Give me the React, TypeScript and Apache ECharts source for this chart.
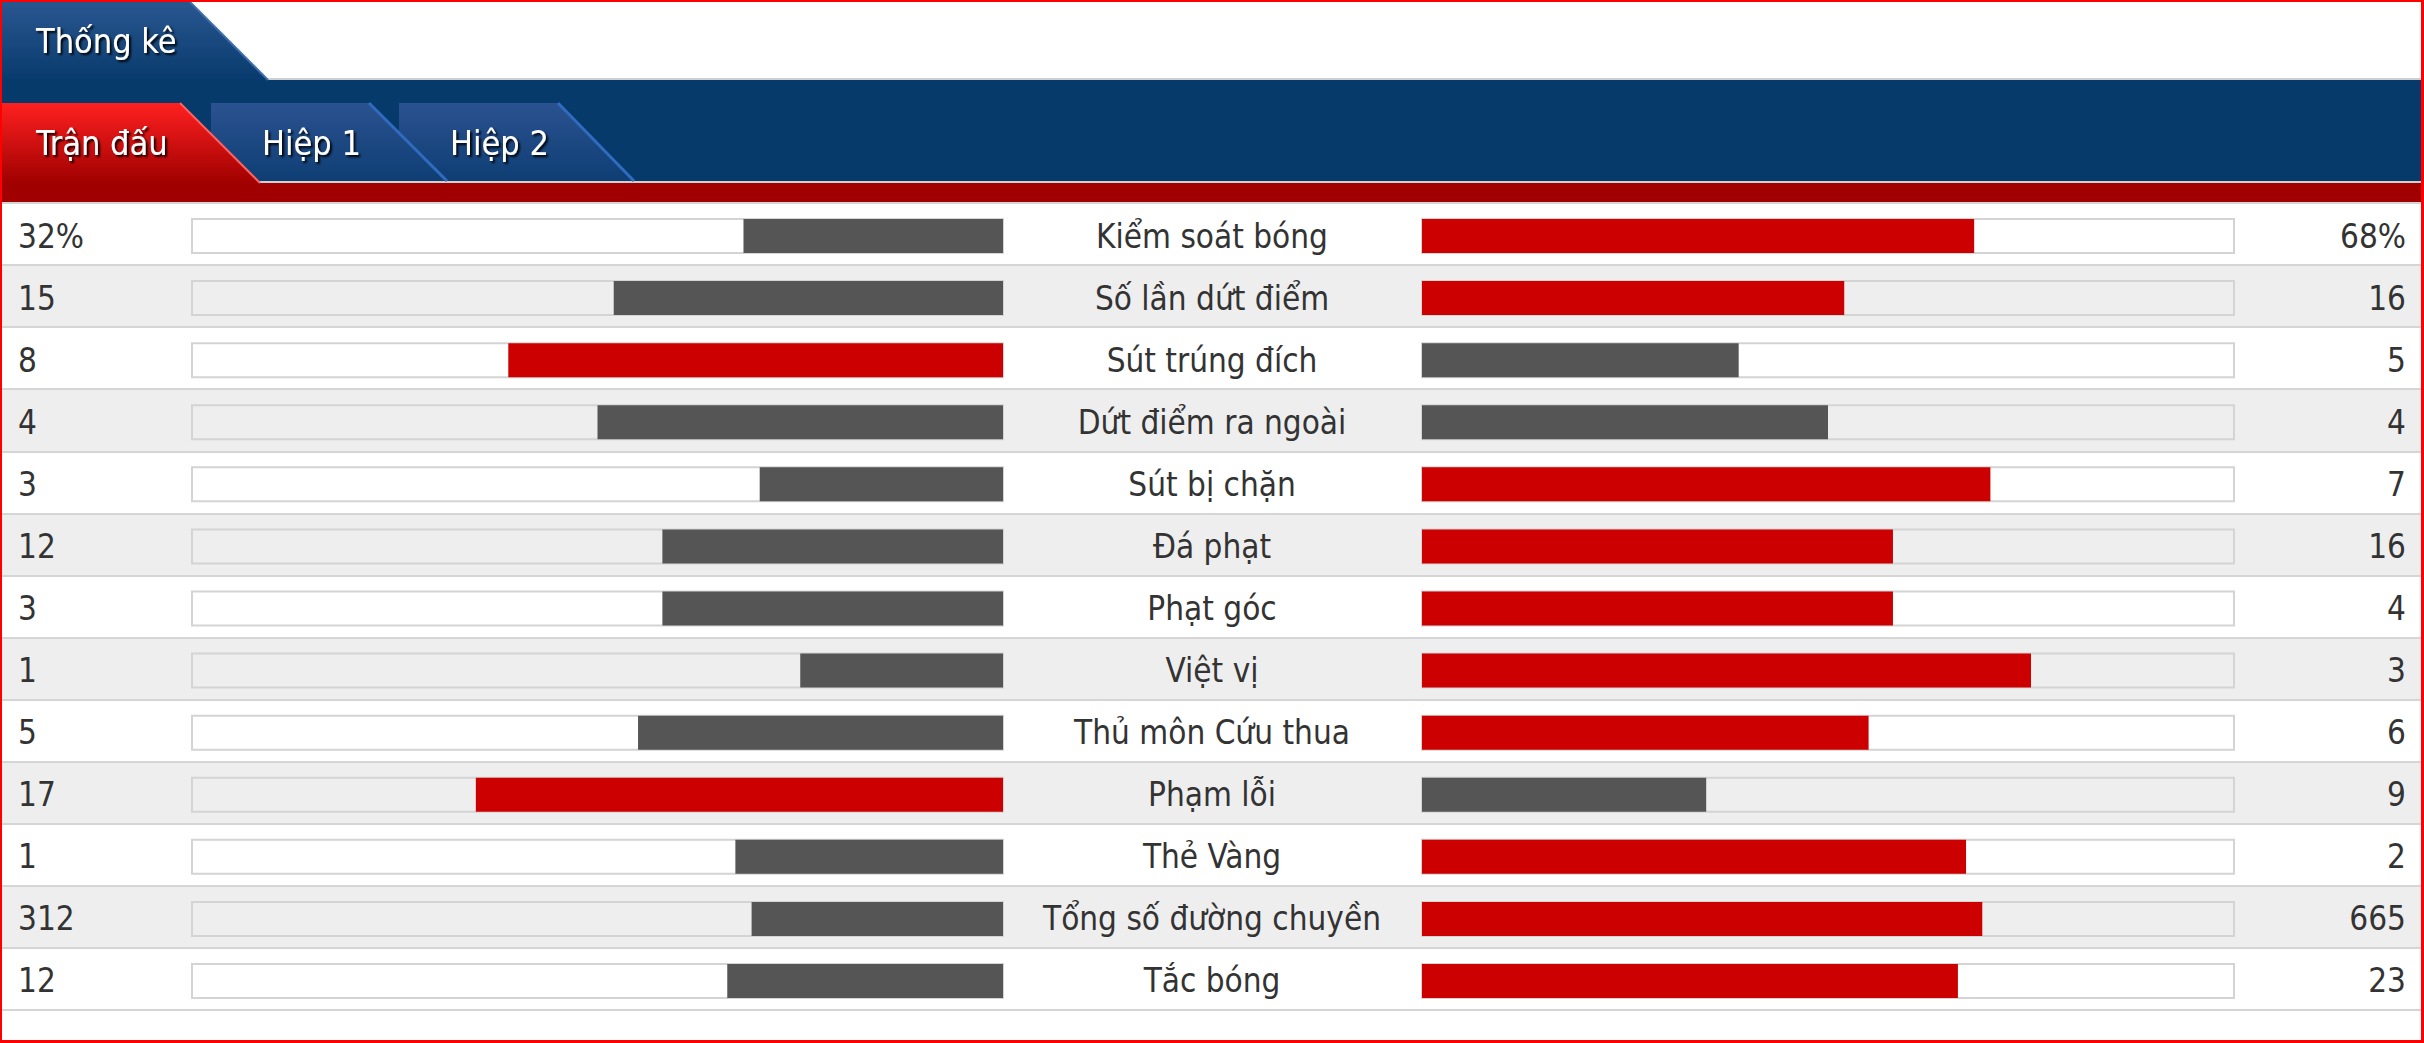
import React, { useEffect, useRef } from "react";
import * as echarts from "echarts";

// ---------- data ----------
const title = "Thống kê";
const tabs = ["Trận đấu", "Hiệp 1", "Hiệp 2"];
const categories = [
  "Kiểm soát bóng",
  "Số lần dứt điểm",
  "Sút trúng đích",
  "Dứt điểm ra ngoài",
  "Sút bị chặn",
  "Đá phạt",
  "Phạt góc",
  "Việt vị",
  "Thủ môn Cứu thua",
  "Phạm lỗi",
  "Thẻ Vàng",
  "Tổng số đường chuyền",
  "Tắc bóng",
];
const homeValues = [32, 15, 8, 4, 3, 12, 3, 1, 5, 17, 1, 312, 12];
const awayValues = [68, 16, 5, 4, 7, 16, 4, 3, 6, 9, 2, 665, 23];
const valueSuffix = ["%", "", "", "", "", "", "", "", "", "", "", "", ""];
// bar lengths (percent of track)
const homeShare = [32, 48, 61, 50, 30, 42, 42, 25, 45, 65, 33, 31, 34];
const awayShare = [68, 52, 39, 50, 70, 58, 58, 75, 55, 35, 67, 69, 66];

// ---------- layout / style ----------
const W = 2424;
const H = 1043;
const FONT = "'DejaVu Sans Condensed', 'DejaVu Sans', sans-serif";
const FS = 33;
const HFS = 34;
const TEXT = "#333333";
const RED = "#cc0000";
const GREY = "#555555";
const LINE = "#d5d5d5";
const ROW_TOP = 203;
const ROW_BOTTOM = 1010;
const BAR_SHIFT = 2;
const L_LEFT = 192;
const L_RIGHT = 1003;
const R_LEFT = 1422;
const R_RIGHT = 2234;
const CENTER_X = 1212;

const grad = (top: string, bottom: string) =>
  new echarts.graphic.LinearGradient(0, 0, 0, 1, [
    { offset: 0, color: top },
    { offset: 1, color: bottom },
  ]);

const headerText = (text: string, x: number, y: number) => ({
  type: "text",
  x,
  y,
  z: 10,
  style: {
    text,
    fill: "#ffffff",
    font: `${HFS}px ${FONT}`,
    verticalAlign: "middle",
    textShadowColor: "rgba(0,0,0,0.95)",
    textShadowBlur: 2,
    textShadowOffsetX: 2,
    textShadowOffsetY: 2,
  },
});

export default function App() {
  const ref = useRef<HTMLDivElement>(null);

  useEffect(() => {
    if (!ref.current) return;
    const chart = echarts.init(ref.current, undefined, { renderer: "svg" });

    const labelBase = { color: TEXT, fontSize: FS, fontFamily: FONT, interval: 0 };
    const hiddenCat = {
      type: "category",
      data: categories,
      inverse: true,
      axisLine: { show: false },
      axisTick: { show: false },
      splitLine: { show: false },
    };
    const barTop = ROW_TOP + BAR_SHIFT;
    const barH = ROW_BOTTOM - ROW_TOP;

    const option: any = {
      animation: false,
      backgroundColor: "#ffffff",
      grid: [
        { left: 2, top: ROW_TOP, width: W - 5, height: ROW_BOTTOM - ROW_TOP },
        { left: L_LEFT, top: barTop, width: L_RIGHT - L_LEFT, height: barH },
        { left: R_LEFT, top: barTop, width: R_RIGHT - R_LEFT, height: barH },
      ],
      xAxis: [
        { gridIndex: 0, type: "value", min: 0, max: 1, show: false },
        { gridIndex: 1, type: "value", min: 0, max: 100, inverse: true, show: false },
        { gridIndex: 2, type: "value", min: 0, max: 100, show: false },
      ],
      yAxis: [
        {
          ...hiddenCat,
          gridIndex: 0,
          axisLabel: { show: false },
          splitLine: { show: true, interval: 0, lineStyle: { color: LINE, width: 2 } },
          splitArea: { show: true, interval: 0, areaStyle: { color: ["#ffffff", "#eeeeee"] } },
        },
        {
          ...hiddenCat,
          gridIndex: 1,
          position: "left",
          axisLabel: {
            ...labelBase,
            align: "left",
            margin: L_LEFT - 18,
            formatter: (_v: string, i: number) => `${homeValues[i]}${valueSuffix[i]}`,
          },
        },
        {
          ...hiddenCat,
          gridIndex: 1,
          position: "right",
          axisLabel: { ...labelBase, align: "center", margin: CENTER_X - L_RIGHT },
        },
        {
          ...hiddenCat,
          gridIndex: 2,
          position: "right",
          axisLabel: {
            ...labelBase,
            align: "right",
            margin: 2406 - R_RIGHT,
            formatter: (_v: string, i: number) => `${awayValues[i]}${valueSuffix[i]}`,
          },
        },
      ],
      series: [
        {
          type: "bar",
          xAxisIndex: 1,
          yAxisIndex: 1,
          barWidth: 34,
          silent: true,
          showBackground: true,
          backgroundStyle: { color: "rgba(255,255,255,0)", borderColor: "#d4d4d4", borderWidth: 2 },
          data: homeShare.map((v, i) => ({
            value: v,
            itemStyle: { color: homeValues[i] > awayValues[i] ? RED : GREY },
          })),
        },
        {
          type: "bar",
          xAxisIndex: 2,
          yAxisIndex: 3,
          barWidth: 34,
          silent: true,
          showBackground: true,
          backgroundStyle: { color: "rgba(255,255,255,0)", borderColor: "#d4d4d4", borderWidth: 2 },
          data: awayShare.map((v, i) => ({
            value: v,
            itemStyle: { color: awayValues[i] > homeValues[i] ? RED : GREY },
          })),
        },
      ],
      graphic: [
        // header area
        { type: "rect", shape: { x: 2, y: 78, width: W - 5, height: 2 }, style: { fill: "#cfcfcf" } },
        { type: "rect", shape: { x: 2, y: 80, width: W - 5, height: 101 }, style: { fill: "#053a6b" } },
        {
          type: "polygon",
          shape: { points: [[2, 2], [190, 2], [268, 80], [2, 80]] },
          style: { fill: grad("#2a5690", "#083b6d") },
        },
        {
          type: "line",
          shape: { x1: 190, y1: 2, x2: 268, y2: 80 },
          style: { stroke: "#3d6eab", lineWidth: 2 },
        },
        { type: "rect", shape: { x: 258, y: 181, width: W - 261, height: 2 }, style: { fill: "#d0d0d0" } },
        { type: "rect", shape: { x: 2, y: 183, width: W - 5, height: 20 }, style: { fill: "#a00000" } },
        // tabs (back to front)
        {
          type: "polygon",
          shape: { points: [[399, 103], [558, 103], [634, 181], [399, 181]] },
          style: { fill: grad("#2b5290", "#0e3e74") },
        },
        {
          type: "line",
          shape: { x1: 558, y1: 103, x2: 634, y2: 181 },
          style: { stroke: "#2f6cc0", lineWidth: 3 },
        },
        {
          type: "polygon",
          shape: { points: [[211, 103], [369, 103], [447, 181], [211, 181]] },
          style: { fill: grad("#2b5290", "#0e3e74") },
        },
        {
          type: "line",
          shape: { x1: 369, y1: 103, x2: 447, y2: 181 },
          style: { stroke: "#2f6cc0", lineWidth: 3 },
        },
        {
          type: "polygon",
          shape: { points: [[2, 103], [180, 103], [260, 183], [2, 183]] },
          style: { fill: grad("#ff2020", "#a00000") },
        },
        {
          type: "line",
          shape: { x1: 180, y1: 103, x2: 260, y2: 183 },
          style: { stroke: "#ff6060", lineWidth: 2 },
        },
        headerText(title, 36, 41),
        headerText(tabs[0], 36, 143),
        headerText(tabs[1], 262, 143),
        headerText(tabs[2], 450, 143),
        // column dividers
        {
          type: "line",
          shape: { x1: 1004.5, y1: ROW_TOP, x2: 1004.5, y2: ROW_BOTTOM },
          style: { stroke: LINE, lineWidth: 2 },
        },
        {
          type: "line",
          shape: { x1: 1420, y1: ROW_TOP, x2: 1420, y2: ROW_BOTTOM },
          style: { stroke: LINE, lineWidth: 2 },
        },
        // red frame
        { type: "rect", z: 20, shape: { x: 0, y: 0, width: W, height: 2 }, style: { fill: "#ff0000" } },
        { type: "rect", z: 20, shape: { x: 0, y: 0, width: 2, height: H }, style: { fill: "#ff0000" } },
        { type: "rect", z: 20, shape: { x: W - 3, y: 0, width: 3, height: H }, style: { fill: "#ff0000" } },
        { type: "rect", z: 20, shape: { x: 0, y: H - 3, width: W, height: 3 }, style: { fill: "#ff0000" } },
      ],
    };

    chart.setOption(option);
    return () => chart.dispose();
  }, []);

  return (
    <div
      ref={ref}
      style={{ position: "fixed", left: 0, top: 0, width: W, height: H }}
    />
  );
}
